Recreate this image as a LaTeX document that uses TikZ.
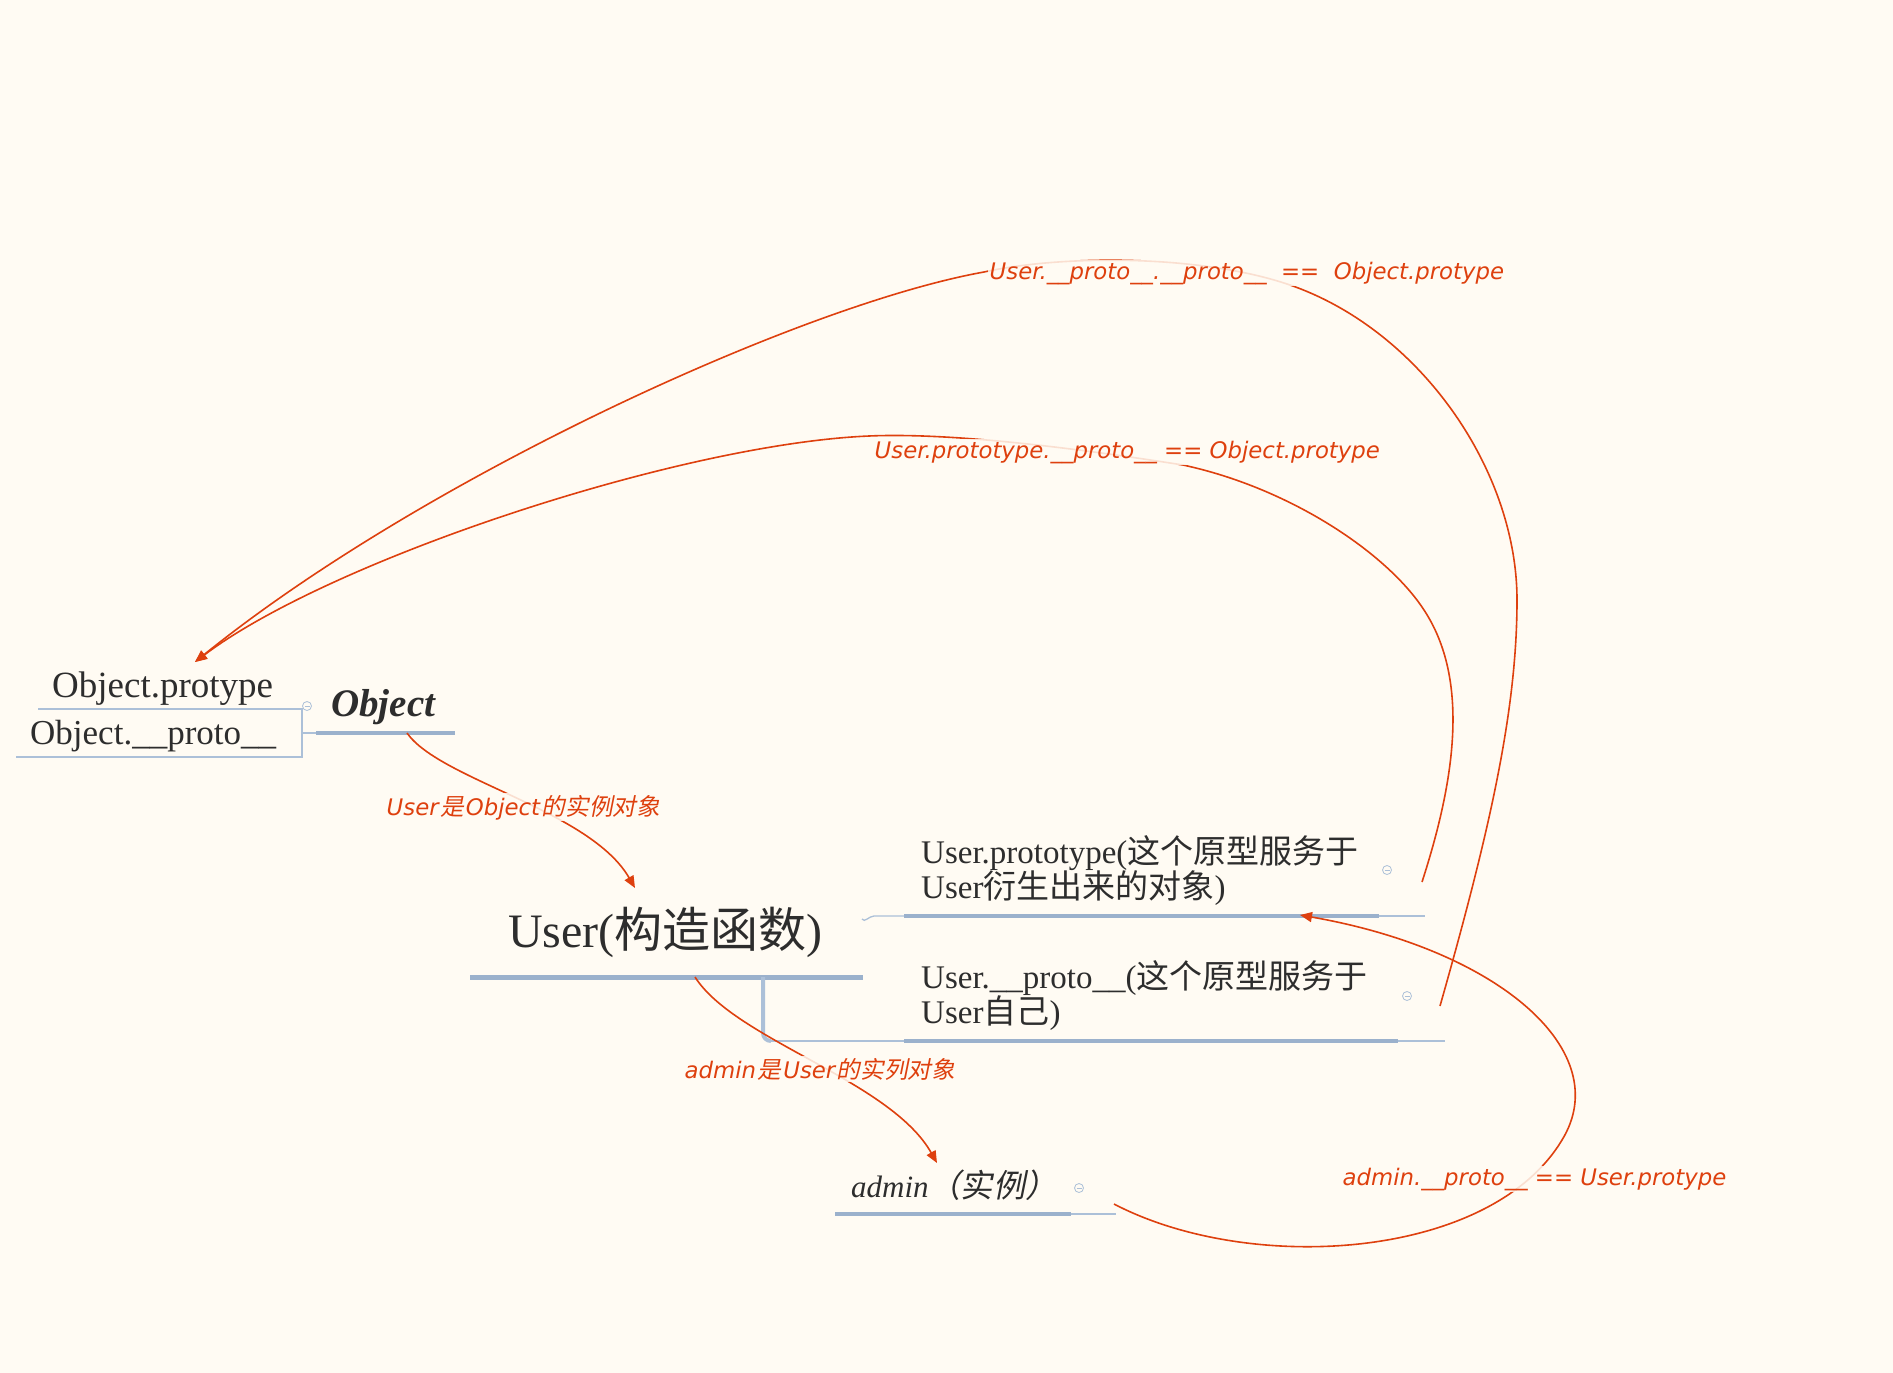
\documentclass[tikz,border=0pt]{standalone}
\usepackage{fontspec}
\setmainfont{Liberation Serif}
\newfontfamily\cjk{Noto Sans CJK SC}
\newfontfamily\cjkit[FakeSlant=0.2,Scale=1.04]{Noto Sans CJK SC}
\newfontfamily\labf{DejaVu Sans}
\usetikzlibrary{arrows.meta}
\definecolor{bg}{RGB}{255,251,243}
\definecolor{ink}{RGB}{45,45,45}
\definecolor{redc}{RGB}{222,64,14}
\definecolor{barc}{RGB}{155,177,204}
\definecolor{thinc}{RGB}{172,192,216}
\newcommand{\labfont}{\labf\itshape\fontsize{22.8}{26}\selectfont}
\begin{document}
\begin{tikzpicture}[x=1pt,y=-1pt,
  txt/.style={inner sep=0pt, anchor=base west, text=ink},
  lab/.style={inner sep=1.5pt, anchor=base west, text=redc, fill=bg, fill opacity=0.85, text opacity=1, font=\labfont},
  rel/.style={draw=redc, line width=1.6pt, -{Triangle[length=12pt,width=10pt]}},
  bar/.style={draw=barc, line width=3.5pt},
  bigbar/.style={draw=barc, line width=5pt},
  thinbar/.style={draw=thinc, line width=1.3pt},
  knob/.style={circle, draw=thinc, fill=bg, inner sep=0pt, minimum size=9pt, line width=0.8pt,
    path picture={\draw[thinc,line width=0.8pt] ([xshift=2pt]path picture bounding box.west) -- ([xshift=-2pt]path picture bounding box.east);}}
]
\useasboundingbox (0,0) rectangle (1893,1373);
\fill[bg] (0,0) rectangle (1893,1373);

% ---------- Object group ----------
\node[txt, font=\fontsize{37}{42}\selectfont] (oproto) at (52,697) {Object.protype};
\node[txt, font=\fontsize{35}{40}\selectfont] (ounder) at (30,744) {Object.\_\_proto\_\_};
\node[txt, font=\bfseries\itshape\fontsize{39}{44}\selectfont] (obj) at (331,716) {Object};
\draw[thinbar] (38,709) -- (302,709) -- (302,757) -- (16,757);
\draw[thinbar] (302,733) -- (316,733);
\draw[bar] (316,733) -- (455,733);
\node[knob] (k0) at (307,706) {};

% ---------- User group ----------
\node[txt, font=\fontsize{48}{54}\selectfont] (user) at (508,947) {User({\cjk 构造函数})};
\draw[bigbar] (470,977) -- (863,977);
\draw[draw=thinc, line width=4pt] (763,977) -- (763,1033) to[out=-90,in=180] (771,1041);
\draw[thinbar] (771,1041) -- (904,1041);
\draw[bar] (904,1041) -- (1398,1041);
\draw[thinbar] (1398,1041) -- (1445,1041);
\draw[thinbar] (862,919) to[out=-60,in=180] (874,916) -- (904,916);
\draw[bar] (904,916) -- (1379,916);
\draw[thinbar] (1379,916) -- (1425,916);

\node[txt, font=\fontsize{33}{36}\selectfont] (up1) at (921,863) {User.prototype({\cjk 这个原型服务于}};
\node[txt, font=\fontsize{33}{36}\selectfont] (up2) at (921,898) {User{\cjk 衍生出来的对象})};
\node[knob] (k1) at (1387,870) {};
\node[txt, font=\fontsize{33}{36}\selectfont] (uu1) at (921,988) {User.\_\_proto\_\_({\cjk 这个原型服务于}};
\node[txt, font=\fontsize{33}{36}\selectfont] (uu2) at (921,1023) {User{\cjk 自己})};
\node[knob] (k2) at (1407,996) {};

% ---------- admin ----------
\node[txt, font=\itshape\fontsize{31}{36}\selectfont] (admin) at (851,1197) {admin{\cjkit （实例）}};
\draw[bar] (835,1214) -- (1071,1214);
\draw[thinbar] (1071,1214) -- (1116,1214);
\node[knob] (k3) at (1079,1188) {};

% ---------- anchor coordinates ----------
\coordinate (objS) at (407,733);
\coordinate (userT) at (635,888);
\coordinate (userS) at (695,977);
\coordinate (adminT) at (937,1163);
\coordinate (adminS) at (1114,1204);
\coordinate (upT) at (1300,915);
\coordinate (upS) at (1422,882);
\coordinate (uuS) at (1440,1006);
\coordinate (opT) at (195,662);

% ---------- relations ----------
\draw[rel] (objS) .. controls (440,780) and (590,810) .. (userT);
\draw[rel] (userS) .. controls (735,1040) and (890,1080) .. (adminT);
\draw[rel] (adminS) .. controls (1250,1275) and (1490,1260) .. (1562,1140)
                    .. controls (1616,1052) and (1500,950) .. (upT);
\draw[rel] (upS) .. controls (1455,780) and (1470,680) .. (1424,610)
                 .. controls (1387,553) and (1290,488) .. (1183,465)
                 .. controls (1100,452) and (960,432) .. (869,436)
                 .. controls (680,444) and (330,560) .. (opT);
\draw[rel] (uuS) .. controls (1490,830) and (1517,710) .. (1517,600)
                 .. controls (1517,470) and (1420,330) .. (1290,285)
                 .. controls (1200,254) and (1060,255) .. (984,272)
                 .. controls (800,305) and (420,480) .. (opT);

% ---------- labels ----------
\node[lab] (l1) at (988,279) {User.\_\_proto\_\_.\_\_proto\_\_\ \ ==\ \ Object.protype};
\node[lab] (l2) at (873,458) {User.prototype.\_\_proto\_\_ == Object.protype};
\node[lab] (l3) at (1341,1185) {admin.\_\_proto\_\_ == User.protype};
\node[lab] (l4) at (385,815) {User\kern1.5pt{\cjkit 是}\kern2pt Object\kern1.5pt{\cjkit 的实例对象}};
\node[lab] (l5) at (683,1078) {admin\kern1.5pt{\cjkit 是}\kern2pt User\kern1.5pt{\cjkit 的实列对象}};
\end{tikzpicture}
\end{document}
